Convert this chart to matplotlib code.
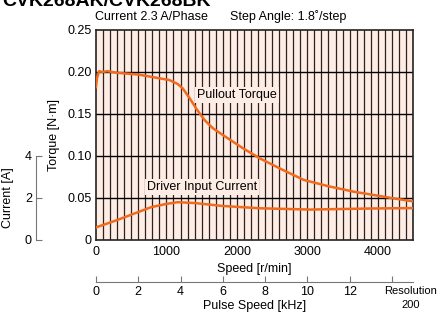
import matplotlib
matplotlib.use("Agg")
import matplotlib.pyplot as plt
import numpy as np
from matplotlib import font_manager

fams = {f.name for f in font_manager.fontManager.ttflist}
base = 'Liberation Sans Narrow' if 'Liberation Sans Narrow' in fams else 'Liberation Sans'
plt.rcParams['font.family'] = [base, 'DejaVu Sans']

# ---- data ----
torque_speed = [0, 15, 45, 90, 160, 300, 600, 900, 1040, 1160, 1230, 1330, 1420, 1540, 1660, 1800,
                2090, 2330, 2650, 2950, 3300, 3660, 4230, 4500]
torque_vals = [0.182, 0.193, 0.201, 0.200, 0.201, 0.199, 0.197, 0.1925, 0.1905, 0.1857, 0.1806, 0.1687,
               0.1568, 0.1429, 0.133, 0.125, 0.109, 0.097, 0.0835, 0.0715, 0.064, 0.0575, 0.0495, 0.046]
current_speed = [0, 300, 780, 1000, 1160, 1400, 1800, 2330, 3040, 3900, 4500]
current_vals = [0.60, 0.95, 1.56, 1.72, 1.80, 1.76, 1.62, 1.51, 1.45, 1.50, 1.52]

speed_ticks = [0, 1000, 2000, 3000, 4000]
torque_ticks = [0, 0.05, 0.10, 0.15, 0.20, 0.25]
torque_labels = ['0', '0.05', '0.10', '0.15', '0.20', '0.25']
current_ticks = [0, 2, 4]
pulse_ticks = [0, 2, 4, 6, 8, 10, 12, 14]
pulse_labels = ['0', '2', '4', '6', '8', '10', '12', '']

title = 'CVK268AK/CVK268BK'
bg = '#fdede5'
orange = '#f26a1b'

W, H = 437, 312
fig = plt.figure(figsize=(W / 100, H / 100), dpi=100)

L, R, T, B = 96, 413, 30, 240
ax = fig.add_axes([L / W, 1 - B / H, (R - L) / W, (B - T) / H])
ax.set_facecolor(bg)
ax.set_xlim(0, 4500)
ax.set_ylim(0, 0.25)
for v in np.arange(100, 4500, 100):
    ax.axvline(v, color='#2e2220', lw=0.9, zorder=1)
for v in torque_ticks[1:-1]:
    ax.axhline(v, color='black', lw=1.0, zorder=1)
ax.plot(current_speed, np.array(current_vals) / 40.0, color=orange, lw=1.8, zorder=3)
ax.plot(torque_speed, torque_vals, color=orange, lw=1.8, zorder=3)
ax.set_xticks(speed_ticks)
ax.set_xticklabels([str(s) for s in speed_ticks])
ax.set_yticks(torque_ticks)
ax.set_yticklabels(torque_labels)
ax.tick_params(length=0, labelsize=9, pad=3)
ax.tick_params(axis='x', pad=4)
for s in ax.spines.values():
    s.set_linewidth(1.2)
    s.set_color('#222222')
ax.set_xlabel('Speed [r/min]', fontsize=9, labelpad=4)
ax.set_ylabel('Torque [N·m]', fontsize=9)
ax.yaxis.set_label_coords(60 / W, 1 - 135 / H, transform=fig.transFigure)

ax.text(1430, 0.1726, 'Pullout Torque', fontsize=9, va='center', ha='left', zorder=4,
        bbox=dict(facecolor=bg, edgecolor='none', pad=1.5))
ax.text(720, 0.063, 'Driver Input Current', fontsize=9, va='center', ha='left', zorder=4,
        bbox=dict(facecolor=bg, edgecolor='none', pad=1.5))

# current axis
ax2 = fig.add_axes([36 / W, 1 - B / H, 0.01, (B - T) / H])
ax2.set_ylim(0, 10)
ax2.patch.set_visible(False)
for k in ['top', 'right', 'bottom']:
    ax2.spines[k].set_visible(False)
ax2.spines['left'].set_bounds(0, 4)
ax2.spines['left'].set_color('#777777')
ax2.set_xticks([])
ax2.set_yticks(current_ticks)
ax2.set_yticklabels([str(c) for c in current_ticks])
ax2.tick_params(axis='y', direction='in', length=4, color='#777777', labelsize=9, pad=3)
ax2.set_ylabel('Current [A]', fontsize=9)
ax2.yaxis.set_label_coords(14 / W, 1 - 198 / H, transform=fig.transFigure)

# pulse speed axis
ax3 = fig.add_axes([L / W, 1 - 282 / H, (R - L) / W, 0.02])
ax3.set_xlim(0, 15)
ax3.patch.set_visible(False)
for k in ['top', 'right', 'left']:
    ax3.spines[k].set_visible(False)
ax3.spines['bottom'].set_color('#777777')
ax3.set_yticks([])
ax3.set_xticks(pulse_ticks)
ax3.set_xticklabels(pulse_labels)
ax3.tick_params(axis='x', direction='in', length=4, color='#777777', labelsize=9, pad=3)
ax3.set_xlabel('Pulse Speed [kHz]', fontsize=9, labelpad=1)
fig.text(411 / W, 1 - 298 / H, 'Resolution\n200', fontsize=8, ha='center', va='center',
         linespacing=1.45)

fig.text(95 / W, 1 - 17 / H, 'Current 2.3 A/Phase', fontsize=9, ha='left', va='center')
fig.text(230 / W, 1 - 17 / H, 'Step Angle: 1.8˚/step', fontsize=9, ha='left', va='center')
fig.text(2 / W, 1 - 6 / H, title, fontsize=14, fontweight='bold', ha='left', va='baseline',
         family=['Liberation Sans', 'DejaVu Sans'])

fig.savefig('out.png', dpi=100)
